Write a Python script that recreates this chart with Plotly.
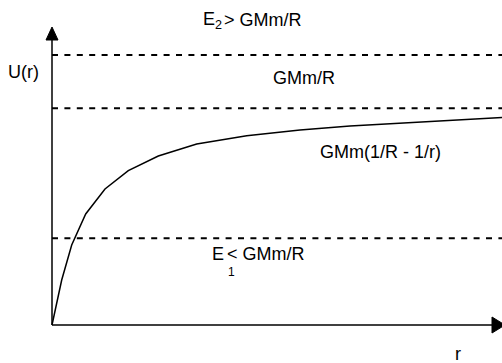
import plotly.graph_objects as go

# ---- data (schematic units: origin of the axes at 0,0) ----
r_vals = [0, 9.7, 19.7, 33.7, 53, 76.3, 106.3, 144.7, 194.7, 248, 298, 450]
u_vals = [0, 45, 80, 111, 136, 154.3, 169, 181, 189.3, 195, 199, 207.5]
energy_levels = [270, 216.7, 86.7]     # E2, GMm/R, E1
r_max = 450
axis_tip_r = 450
axis_tip_u = 298

FONT = "Arial, Liberation Sans, sans-serif"
FS = 18

fig = go.Figure()

# dashed energy levels
for lvl in energy_levels:
    fig.add_trace(go.Scatter(
        x=[0, r_max], y=[lvl, lvl], mode="lines",
        line=dict(color="black", width=2, dash="6px,6.4px"),
        hoverinfo="skip", showlegend=False))

# potential curve
fig.add_trace(go.Scatter(
    x=r_vals, y=u_vals, mode="lines",
    line=dict(color="black", width=1.5),
    hoverinfo="skip", showlegend=False))

# axes lines and arrowheads
shapes = [
    dict(type="line", xref="x", yref="y", x0=0, y0=0, x1=0, y1=axis_tip_u - 13,
         line=dict(color="black", width=1.5)),
    dict(type="line", xref="x", yref="y", x0=0, y0=0, x1=axis_tip_r - 10, y1=0,
         line=dict(color="black", width=1.5)),
    dict(type="path", xref="x", yref="y",
         path=f"M -6,{axis_tip_u - 13} L 6,{axis_tip_u - 13} L 0,{axis_tip_u} Z",
         fillcolor="black", line=dict(color="black", width=1)),
    dict(type="path", xref="x", yref="y",
         path=f"M {axis_tip_r - 10},-8 L {axis_tip_r - 10},8 L {axis_tip_r + 3},0 Z",
         fillcolor="black", line=dict(color="black", width=1)),
]

labels = [
    ("E<sub>2</sub>", 149, 305, "left", FS),
    ("> GMm/R", 170, 305, "left", FS),
    ("U(r)", -29, 253, "center", FS),
    ("GMm/R", 252, 247.5, "center", FS),
    ("GMm(1/R - 1/r)", 328, 173, "center", FS),
    ("E", 158, 71, "left", FS),
    ("< GMm/R", 173, 71, "left", FS),
    ("1", 179, 53, "center", 12),
    ("r", 406, -29, "center", FS),
]
annotations = []
for txt, x, y, xa, fs in labels:
    annotations.append(dict(
        x=x, y=y, xref="x", yref="y", text=txt, showarrow=False,
        xanchor=xa, yanchor="middle",
        font=dict(family=FONT, size=fs, color="black")))

fig.update_layout(
    width=502, height=363, autosize=False,
    margin=dict(l=0, r=0, t=0, b=0),
    paper_bgcolor="white", plot_bgcolor="white",
    xaxis=dict(range=[-52, 450], visible=False, fixedrange=True),
    yaxis=dict(range=[-38, 325], visible=False, fixedrange=True),
    annotations=annotations,
    shapes=shapes,
    showlegend=False,
)

fig.write_html(
    "out.html",
    config={"displayModeBar": False, "staticPlot": True},
    post_script="document.body.style.margin='0';document.body.style.overflow='hidden';",
)
